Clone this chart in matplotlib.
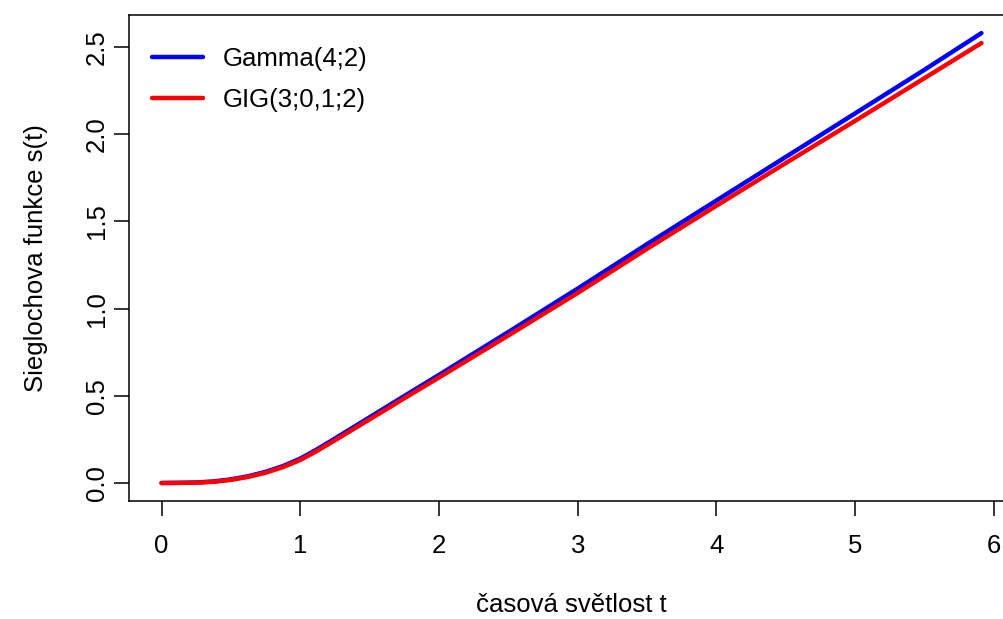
import numpy as np
import matplotlib.pyplot as plt

plt.rcParams['font.family'] = ['Liberation Sans', 'DejaVu Sans']

# odectene hodnoty s(t) v bodech t
t = [0.0, 0.125, 0.25, 0.375, 0.5, 0.625, 0.75, 0.875, 1.0, 1.125, 1.25, 1.375, 1.5,
     1.625, 1.75, 2.0, 2.5, 3.0, 3.5, 4.0, 4.5, 5.0, 5.5, 5.91]
s_gamma = [0.0, 0.001, 0.003, 0.009, 0.021, 0.039, 0.064, 0.097, 0.14, 0.195, 0.255,
           0.316, 0.377, 0.438, 0.499, 0.62, 0.866, 1.115, 1.37, 1.62, 1.87, 2.12, 2.37, 2.58]
s_gig = [0.0, 0.001, 0.002, 0.007, 0.018, 0.035, 0.059, 0.091, 0.132, 0.186, 0.245,
         0.305, 0.365, 0.425, 0.486, 0.605, 0.846, 1.09, 1.343, 1.59, 1.835, 2.077, 2.322, 2.523]
labels = ['Gamma(4;2)', 'GIG(3;0,1;2)']
xticks = [0, 1, 2, 3, 4, 5, 6]
yticks = [0.0, 0.5, 1.0, 1.5, 2.0, 2.5]

fs = 18.5
fig = plt.figure(figsize=(10.04, 6.19), dpi=100)
ax = fig.add_axes([0.1282, 0.1906, 0.882, 0.785])

ax.plot(t, s_gamma, color='#0000ff', lw=3.2, solid_capstyle='round', label=labels[0])
ax.plot(t, s_gig, color='#ff0000', lw=3.2, solid_capstyle='round', label=labels[1])

# rozsah jako v R (4 % navic)
xr = max(t) - min(t)
yr = max(s_gamma) - min(s_gamma)
ax.set_xlim(min(t) - 0.04 * xr, max(t) + 0.04 * xr)
ax.set_ylim(min(s_gamma) - 0.04 * yr, max(s_gamma) + 0.04 * yr)

ax.set_xticks(xticks)
ax.set_xticklabels([str(v) for v in xticks])
ax.set_yticks(yticks)
ax.set_yticklabels(['%.1f' % v for v in yticks], rotation=90, va='center')
ax.tick_params(axis='x', length=11, width=1.1, pad=13, labelsize=fs)
ax.tick_params(axis='y', length=11, width=1.1, pad=3.5, labelsize=fs)
for side in ['left', 'top', 'bottom', 'right']:
    ax.spines[side].set_linewidth(1.1)

ax.set_xlabel('časová světlost t', fontsize=fs)
ax.set_ylabel('Sieglochova funkce s(t)', fontsize=fs)
ax.xaxis.set_label_coords(0.5, -0.214)
ax.yaxis.set_label_coords(-0.105, 0.5)
ax.xaxis.label.set_va('center')
ax.yaxis.label.set_va('center')

ax.legend(loc='upper left', bbox_to_anchor=(0.026, 0.935), frameon=False,
          fontsize=fs, handlelength=1.98, handletextpad=0.78, labelspacing=0.68,
          borderaxespad=0, borderpad=0)

plt.savefig('out.png', dpi=100)
